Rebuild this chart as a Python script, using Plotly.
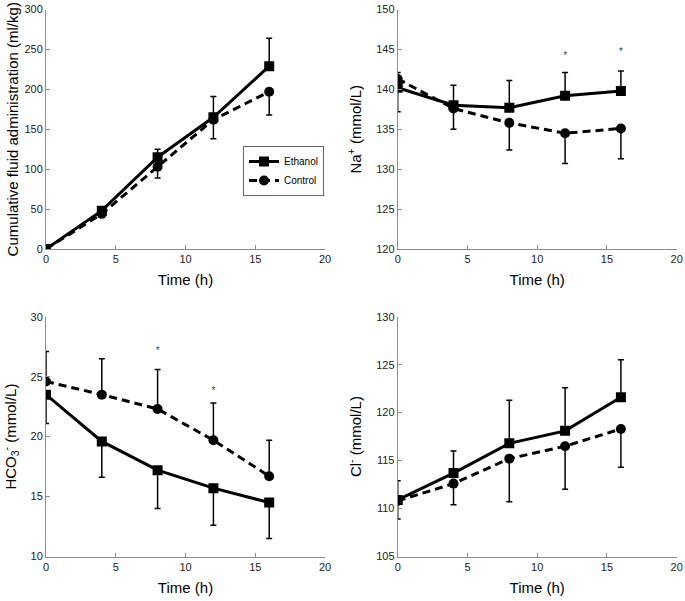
import plotly.graph_objects as go

# data
time_h = [0, 4, 8, 12, 16]

fluid_eth = [0, 48, 115, 165, 229]
fluid_eth_err = [0, 3, 10, 26, 35]
fluid_ctl = [0, 44, 103, 162, 197]
fluid_ctl_err = [0, 4, 14, 24, 29]

na_eth = [140.2, 138.0, 137.7, 139.2, 139.8]
na_eth_err = [3.0, 2.5, 3.4, 2.9, 2.5]
na_ctl = [141.3, 137.6, 135.8, 134.5, 135.1]
na_ctl_err = [0.8, 2.6, 3.4, 3.8, 3.8]

hco3_eth = [23.5, 19.6, 17.2, 15.7, 14.5]
hco3_eth_err = [2.4, 3.0, 3.2, 3.1, 3.0]
hco3_ctl = [24.6, 23.5, 22.3, 19.7, 16.7]
hco3_ctl_err = [2.5, 3.0, 3.3, 3.1, 3.0]

cl_eth = [110.9, 113.7, 116.8, 118.1, 121.6]
cl_eth_err = [2.0, 2.3, 4.5, 4.5, 3.9]
cl_ctl = [110.8, 112.6, 115.2, 116.5, 118.3]
cl_ctl_err = [1.9, 2.2, 4.5, 4.5, 4.0]

na_star_t = [12, 16]
na_star_y = [144.7, 145.2]
hco3_star_t = [8, 12]
hco3_star_y = [27.5, 24.2]

FONT = "Liberation Sans, Arial, Helvetica, sans-serif"

panels = [
    (fluid_eth, fluid_eth_err, fluid_ctl, fluid_ctl_err, ""),
    (na_eth, na_eth_err, na_ctl, na_ctl_err, "2"),
    (hco3_eth, hco3_eth_err, hco3_ctl, hco3_ctl_err, "3"),
    (cl_eth, cl_eth_err, cl_ctl, cl_ctl_err, "4"),
]

fig = go.Figure()

for i, (eth, eth_err, ctl, ctl_err, sfx) in enumerate(panels):
    # error bar goes up for the higher series, down for the lower one
    eth_up = [e if a >= b else 0 for a, b, e in zip(eth, ctl, eth_err)]
    eth_dn = [0 if a >= b else e for a, b, e in zip(eth, ctl, eth_err)]
    ctl_up = [0 if a >= b else e for a, b, e in zip(eth, ctl, ctl_err)]
    ctl_dn = [e if a >= b else 0 for a, b, e in zip(eth, ctl, ctl_err)]

    err_style = dict(type="data", symmetric=False, color="black", thickness=1.5, width=3)

    fig.add_trace(go.Scatter(
        x=time_h, y=ctl, name="Control", xaxis="x" + sfx, yaxis="y" + sfx,
        mode="lines+markers", showlegend=(i == 0),
        line=dict(color="black", width=3, dash="8px,5px"),
        marker=dict(symbol="circle", size=10, color="black"),
        error_y=dict(array=ctl_up, arrayminus=ctl_dn, **err_style),
    ))
    fig.add_trace(go.Scatter(
        x=time_h, y=eth, name="Ethanol", xaxis="x" + sfx, yaxis="y" + sfx,
        mode="lines+markers", showlegend=(i == 0),
        line=dict(color="black", width=3),
        marker=dict(symbol="square", size=10, color="black"),
        error_y=dict(array=eth_up, arrayminus=eth_dn, **err_style),
    ))

# significance stars
for t, y, sfx in [(na_star_t, na_star_y, "2"), (hco3_star_t, hco3_star_y, "3")]:
    fig.add_trace(go.Scatter(
        x=t, y=y, xaxis="x" + sfx, yaxis="y" + sfx, mode="text", text=["*"] * len(t),
        textfont=dict(size=10, color="#444", family=FONT), showlegend=False,
        textposition="bottom center",
    ))

W, H = 685, 601
xl = [46 / W, 325 / W]
xr = [397.7 / W, 676.7 / W]
yt = [1 - 249 / H, 1 - 9.5 / H]
yb = [1 - 556.5 / H, 1 - 316.7 / H]

axis_common = dict(
    showline=True, linecolor="#8c8c8c", linewidth=1, showgrid=False, zeroline=False,
    ticks="inside", ticklen=4, tickcolor="#8c8c8c", automargin=False,
    tickfont=dict(size=11, color="#222", family=FONT),
)
xcommon = dict(axis_common, range=[0, 20], dtick=5,
               title=dict(text="Time (h)", font=dict(size=15, color="black", family=FONT), standoff=10))

def ytitle(text, standoff):
    return dict(text=text, font=dict(size=15, color="black", family=FONT), standoff=standoff)

fig.update_layout(
    width=W, height=H,
    margin=dict(l=0, r=0, t=0, b=0),
    plot_bgcolor="white", paper_bgcolor="white",
    font=dict(family=FONT, color="black"),
    xaxis=dict(xcommon, domain=xl, anchor="y"),
    yaxis=dict(axis_common, domain=yt, anchor="x", range=[0, 300], dtick=50,
               title=ytitle("Cumulative fluid administration (ml/kg)", 2)),
    xaxis2=dict(xcommon, domain=xr, anchor="y2"),
    yaxis2=dict(axis_common, domain=yt, anchor="x2", range=[120, 150], dtick=5,
                title=ytitle("Na<sup>+</sup> (mmol/L)", 10)),
    xaxis3=dict(xcommon, domain=xl, anchor="y3"),
    yaxis3=dict(axis_common, domain=yb, anchor="x3", range=[10, 30], dtick=5,
                title=ytitle("HCO<sub>3</sub><sup>-</sup> (mmol/L)", 10)),
    xaxis4=dict(xcommon, domain=xr, anchor="y4"),
    yaxis4=dict(axis_common, domain=yb, anchor="x4", range=[105, 130], dtick=5,
                title=ytitle("Cl<sup>-</sup> (mmol/L)", 10)),
    legend=dict(
        x=243 / W, y=1 - 146 / H, xanchor="left", yanchor="top",
        bordercolor="#666", borderwidth=1, bgcolor="white",
        font=dict(size=10, family=FONT), traceorder="reversed",
        tracegroupgap=0, itemwidth=30,
    ),
)

# drop the browser's default page margin so the figure sits at the window corner
fig.write_html("out.html", config={"displayModeBar": False},
               post_script="document.body.style.margin = '0';")
